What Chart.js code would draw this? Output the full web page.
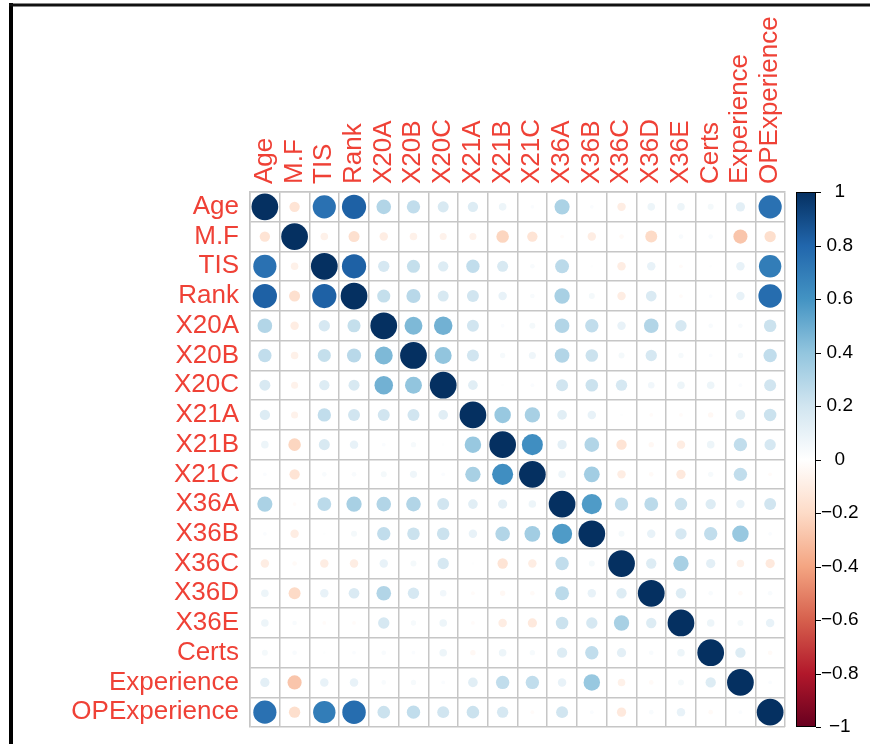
<!DOCTYPE html>
<html>
<head>
<meta charset="utf-8">
<style>
html,body{margin:0;padding:0;background:#fff;}
#wrap{position:relative;width:870px;height:744px;overflow:hidden;}
</style>
<script src="https://cdn.jsdelivr.net/npm/chart.js@4.4.1/dist/chart.umd.min.js"></script>
</head>
<body>
<div id="wrap"><canvas id="c" width="870" height="744"></canvas></div>
<script>
// ---------- data ----------
const variables = ['Age','M.F','TIS','Rank','X20A','X20B','X20C','X21A','X21B','X21C',
                   'X36A','X36B','X36C','X36D','X36E','Certs','Experience','OPExperience'];

const rowAge   = [ 1,   -0.15, 0.75, 0.82, 0.30, 0.25, 0.17, 0.15, 0.08, 0.02, 0.32, 0.02,-0.10, 0.08, 0.08, 0.05, 0.12, 0.75];
const rowMF    = [-0.15, 1,    -0.08,-0.17,-0.10,-0.08,-0.07,-0.07,-0.22,-0.15,-0.02,-0.10,-0.03,-0.20, 0.03, 0.03,-0.28,-0.18];
const rowTIS   = [ 0.75,-0.08, 1,    0.82, 0.18, 0.24, 0.15, 0.25, 0.17, 0.03, 0.27, 0.01,-0.10, 0.10,-0.02, 0.01, 0.10, 0.70];
const rowRank  = [ 0.82,-0.17, 0.82, 1,    0.24, 0.28, 0.17, 0.20, 0.10, 0.03, 0.33, 0.05,-0.10, 0.16,-0.02, 0.02, 0.10, 0.77];
const rowX20A  = [ 0.30,-0.10, 0.18, 0.24, 1,    0.45, 0.48, 0.20, 0.02, 0.05, 0.30, 0.25, 0.10, 0.30, 0.18, 0.03, 0.03, 0.22];
const rowX20B  = [ 0.25,-0.08, 0.24, 0.28, 0.45, 1,    0.40, 0.20, 0.04, 0.07, 0.30, 0.22, 0.05, 0.18, 0.04, 0.02, 0.04, 0.25];
const rowX20C  = [ 0.17,-0.07, 0.15, 0.17, 0.48, 0.40, 1,    0.13, 0.01, 0.02, 0.20, 0.22, 0.18, 0.06, 0.08, 0.08, 0.02, 0.20];
const rowX21A  = [ 0.15,-0.07, 0.25, 0.20, 0.20, 0.20, 0.13, 1,    0.38, 0.33, 0.13, 0.10, 0.01,-0.02,-0.02,-0.04, 0.13, 0.22];
const rowX21B  = [ 0.08,-0.22, 0.17, 0.10, 0.02, 0.04, 0.01, 0.38, 1,    0.62, 0.12, 0.30,-0.15,-0.04,-0.10, 0.08, 0.25, 0.18];
const rowX21C  = [ 0.02,-0.15, 0.03, 0.03, 0.05, 0.07, 0.02, 0.33, 0.62, 1,    0.08, 0.35,-0.10,-0.03,-0.12, 0.04, 0.25,-0.02];
const rowX36A  = [ 0.32,-0.02, 0.27, 0.33, 0.30, 0.30, 0.20, 0.13, 0.12, 0.08, 1,    0.57, 0.25, 0.27, 0.22, 0.15, 0.10, 0.20];
const rowX36B  = [ 0.02,-0.10, 0.01, 0.05, 0.25, 0.22, 0.22, 0.10, 0.30, 0.35, 0.57, 1,    0.05, 0.10, 0.18, 0.25, 0.38, 0.02];
const rowX36C  = [-0.10,-0.03,-0.10,-0.10, 0.10, 0.05, 0.18, 0.01,-0.15,-0.10, 0.25, 0.05, 1,    0.15, 0.33, 0.12,-0.08,-0.12];
const rowX36D  = [ 0.08,-0.20, 0.10, 0.16, 0.30, 0.18, 0.06,-0.02,-0.04,-0.03, 0.27, 0.10, 0.15, 1,    0.15, 0.03,-0.03, 0.03];
const rowX36E  = [ 0.08, 0.03,-0.02,-0.02, 0.18, 0.04, 0.08,-0.02,-0.10,-0.12, 0.22, 0.18, 0.33, 0.15, 1,    0.08, 0.05, 0.10];
const rowCerts = [ 0.05, 0.03, 0.01, 0.02, 0.03, 0.02, 0.08,-0.04, 0.08, 0.04, 0.15, 0.25, 0.12, 0.03, 0.08, 1,    0.15,-0.03];
const rowExp   = [ 0.12,-0.28, 0.10, 0.10, 0.03, 0.04, 0.02, 0.13, 0.25, 0.25, 0.10, 0.38,-0.08,-0.03, 0.05, 0.15, 1,    0.02];
const rowOPExp = [ 0.75,-0.18, 0.70, 0.77, 0.22, 0.25, 0.20, 0.22, 0.18,-0.02, 0.20, 0.02,-0.12, 0.03, 0.10,-0.03, 0.02, 1   ];

const corrRows = [rowAge,rowMF,rowTIS,rowRank,rowX20A,rowX20B,rowX20C,rowX21A,rowX21B,rowX21C,
                  rowX36A,rowX36B,rowX36C,rowX36D,rowX36E,rowCerts,rowExp,rowOPExp];

const colorbarMin = -1, colorbarMax = 1, colorbarStep = 0.2;

// RdBu palette from -1 to 1
const paletteStops = ['#67001F','#B2182B','#D6604D','#F4A582','#FDDBC7','#FFFFFF',
                      '#D1E5F0','#92C5DE','#4393C3','#2166AC','#053061'];

// ---------- helpers ----------
function hexToRgb(h){ return [parseInt(h.substr(1,2),16),parseInt(h.substr(3,2),16),parseInt(h.substr(5,2),16)]; }
const stopRgb = paletteStops.map(hexToRgb);
function corrColor(v){
  const t = Math.max(0, Math.min(1, (v + 1) / 2)) * (stopRgb.length - 1);
  const i = Math.min(Math.floor(t), stopRgb.length - 2);
  const f = t - i;
  const a = stopRgb[i], b = stopRgb[i+1];
  const c = a.map((x,k)=>Math.round(x + (b[k]-x)*f));
  return 'rgb(' + c.join(',') + ')';
}
function fmtTick(v){
  const r = Math.round(v*10)/10;
  if (r === 0) return '0';
  return (r < 0 ? '\u2212' : '') + String(Math.abs(r));
}

const points = [];
corrRows.forEach((row,i)=>row.forEach((v,j)=>points.push({x: variables[j], y: variables[i], v: v})));

const FONT = "'Liberation Sans', Arial, Helvetica, sans-serif";
const LABEL_COLOR = '#EF4136';
const GRID_COLOR = '#C6C6C6';
const CLEAR = 'rgba(0,0,0,0)';

function radiusFor(c){
  const a = c.chart.chartArea;
  if (!a || !c.raw) return 0;
  const cell = (a.right - a.left) / variables.length;
  return Math.sqrt(Math.abs(c.raw.v)) * 0.45 * cell;
}

const framePlugin = {
  id: 'frame',
  beforeDraw(chart){
    const ctx = chart.ctx;
    ctx.save();
    ctx.fillStyle = '#fff';
    ctx.fillRect(0,0,chart.width,chart.height);
    ctx.fillStyle = '#000';
    ctx.fillRect(9, 3, 4, chart.height - 3);
    ctx.fillStyle = '#111';
    ctx.fillRect(9, 3.5, chart.width - 9, 3);
    ctx.restore();
  }
};

const colorbarPlugin = {
  id: 'colorbar',
  afterDraw(chart){
    const s = chart.scales.yc;
    const a = chart.chartArea;
    const ctx = chart.ctx;
    const x0 = a.right + 11, w = 20;
    const yTop = s.getPixelForValue(colorbarMax), yBot = s.getPixelForValue(colorbarMin);
    ctx.save();
    const g = ctx.createLinearGradient(0, yTop, 0, yBot);
    for (let k = 0; k < paletteStops.length; k++) {
      g.addColorStop(k/(paletteStops.length-1), paletteStops[paletteStops.length-1-k]);
    }
    ctx.fillStyle = g;
    ctx.fillRect(x0, yTop, w, yBot - yTop);
    ctx.strokeStyle = '#000';
    ctx.lineWidth = 1;
    ctx.strokeRect(x0 + 0.5, yTop + 0.5, w - 1, yBot - yTop - 1);
    ctx.beginPath();
    s.ticks.forEach(t=>{
      const y = Math.round(s.getPixelForValue(t.value)) + 0.5;
      ctx.moveTo(x0 + w, y); ctx.lineTo(x0 + w + 5, y);
    });
    ctx.stroke();
    ctx.restore();
  }
};

new Chart(document.getElementById('c'), {
  type: 'scatter',
  data: {
    datasets: [{
      data: points,
      pointRadius: radiusFor,
      pointHoverRadius: radiusFor,
      pointBackgroundColor: c => c.raw ? corrColor(c.raw.v) : '#fff',
      pointHoverBackgroundColor: c => c.raw ? corrColor(c.raw.v) : '#fff',
      pointBorderWidth: 0,
      pointHoverBorderWidth: 0
    }]
  },
  options: {
    responsive: false,
    animation: false,
    events: [],
    layout: { padding: { top: 0, left: 0, right: 0, bottom: 17 } },
    plugins: { legend: { display: false }, tooltip: { enabled: false } },
    scales: {
      x: {
        type: 'category', labels: variables, position: 'top', offset: true,
        grid: { color: GRID_COLOR, lineWidth: 1.5, offset: true, drawTicks: true, tickLength: 8, tickColor: CLEAR },
        border: { color: GRID_COLOR, width: 1.5 },
        ticks: { autoSkip: false, minRotation: 90, maxRotation: 90, padding: 0, labelOffset: 31,
                 color: LABEL_COLOR, font: { family: FONT, size: 26 } },
        afterFit: s => { s.height = 192; }
      },
      y: {
        type: 'category', labels: variables, position: 'left', offset: true,
        grid: { color: GRID_COLOR, lineWidth: 1.5, offset: true, drawTicks: true, tickLength: 11, tickColor: CLEAR },
        border: { color: GRID_COLOR, width: 1.5 },
        ticks: { autoSkip: false, padding: 0, color: LABEL_COLOR, font: { family: FONT, size: 26 } },
        afterFit: s => { s.width = 250; }
      },
      yc: {
        type: 'linear', position: 'right', min: colorbarMin, max: colorbarMax,
        grid: { display: true, drawOnChartArea: false, drawTicks: true, tickLength: 36, tickColor: CLEAR },
        border: { display: false },
        ticks: { stepSize: colorbarStep, autoSkip: false, padding: 0, crossAlign: 'center',
                 color: '#000', font: { family: FONT, size: 19 }, callback: v => fmtTick(v) },
        afterFit: s => { s.width = 85; }
      }
    }
  },
  plugins: [framePlugin, colorbarPlugin]
});
</script>
</body>
</html>
